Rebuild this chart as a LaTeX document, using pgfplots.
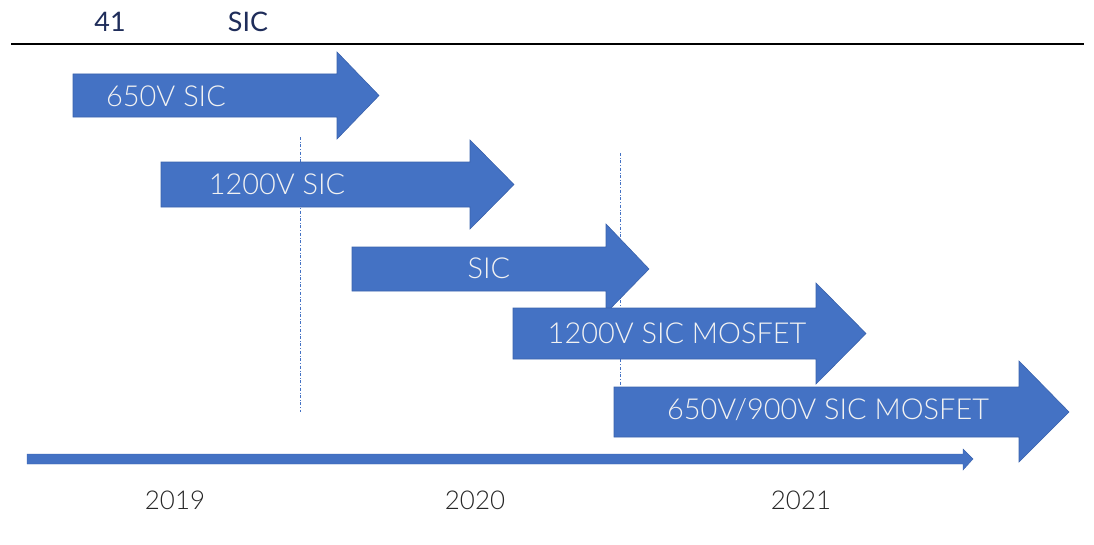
\documentclass[border=0pt]{standalone}
\usepackage{pgfplots}
\pgfplotsset{compat=1.18}
\usepackage{fontspec}
\setmainfont{Lato Light}
\newfontfamily\headfont{Lato}
\definecolor{arrowblue}{HTML}{4472C4}
\definecolor{arrowedge}{HTML}{3A62AC}
\definecolor{navy}{HTML}{1F2D5A}
\definecolor{txt}{HTML}{F2F2F2}

\begin{document}
\begin{tikzpicture}
\begin{axis}[
width=1094bp, height=544bp, scale only axis,
xmin=0, xmax=1094, ymin=0, ymax=544,
y dir=reverse,
axis line style={draw=none},
xtick=\empty, ytick=\empty,
clip=false,
]
% guide lines
\addplot[arrowblue, thin, dash dot] coordinates {(300,137) (300,412)};
\addplot[arrowblue, thin, dash dot] coordinates {(620,153) (620,385)};

% block arrows: body left, body top, head start, head top, tip, head bottom, body bottom
\addplot[fill=arrowblue, draw=arrowedge, line width=0.6bp] coordinates {
(73,74) (337,74) (337,52) (379,95.5) (337,139) (337,117) (73,117)} -- cycle;
\addplot[fill=arrowblue, draw=arrowedge, line width=0.6bp] coordinates {
(161,162) (470,162) (470,140) (514,184.5) (470,229) (470,207) (161,207)} -- cycle;
\addplot[fill=arrowblue, draw=arrowedge, line width=0.6bp] coordinates {
(352,247) (606,247) (606,224) (649,269) (606,313) (606,291) (352,291)} -- cycle;
\addplot[fill=arrowblue, draw=arrowedge, line width=0.6bp] coordinates {
(513,308) (816,308) (816,283) (866,333.5) (816,384) (816,359) (513,359)} -- cycle;
\addplot[fill=arrowblue, draw=arrowedge, line width=0.6bp] coordinates {
(614,387) (1019,387) (1019,361) (1069,412) (1019,462) (1019,437) (614,437)} -- cycle;

% timeline arrow
\addplot[fill=arrowblue, draw=arrowedge, line width=0.4bp] coordinates {
(27,454) (963,454) (963,449) (973,459) (963,470) (963,464) (27,464)} -- cycle;

% header rule
\addplot[black, line width=1.6bp] coordinates {(11,44) (1084,44)};

% texts
\node[text=navy, font=\headfont\fontsize{27}{30}\selectfont] at (axis cs:110,22) {41};
\node[text=navy, font=\headfont\fontsize{27}{30}\selectfont] at (axis cs:248,22) {SIC};

\node[text=txt, font=\fontsize{29}{32}\selectfont] at (axis cs:166,96) {650V SIC};
\node[text=txt, font=\fontsize{29}{32}\selectfont] at (axis cs:277,184) {1200V SIC};
\node[text=txt, font=\fontsize{29}{32}\selectfont] at (axis cs:489,268) {SIC};
\node[text=txt, font=\fontsize{29}{32}\selectfont] at (axis cs:677,333) {1200V SIC MOSFET};
\node[text=txt, font=\fontsize{29}{32}\selectfont] at (axis cs:828,410) {650V/900V SIC MOSFET};

\node[text=black!85, font=\fontsize{26}{30}\selectfont] at (axis cs:175,500) {2019};
\node[text=black!85, font=\fontsize{26}{30}\selectfont] at (axis cs:475,500) {2020};
\node[text=black!85, font=\fontsize{26}{30}\selectfont] at (axis cs:801,500) {2021};
\end{axis}
\end{tikzpicture}
\end{document}
